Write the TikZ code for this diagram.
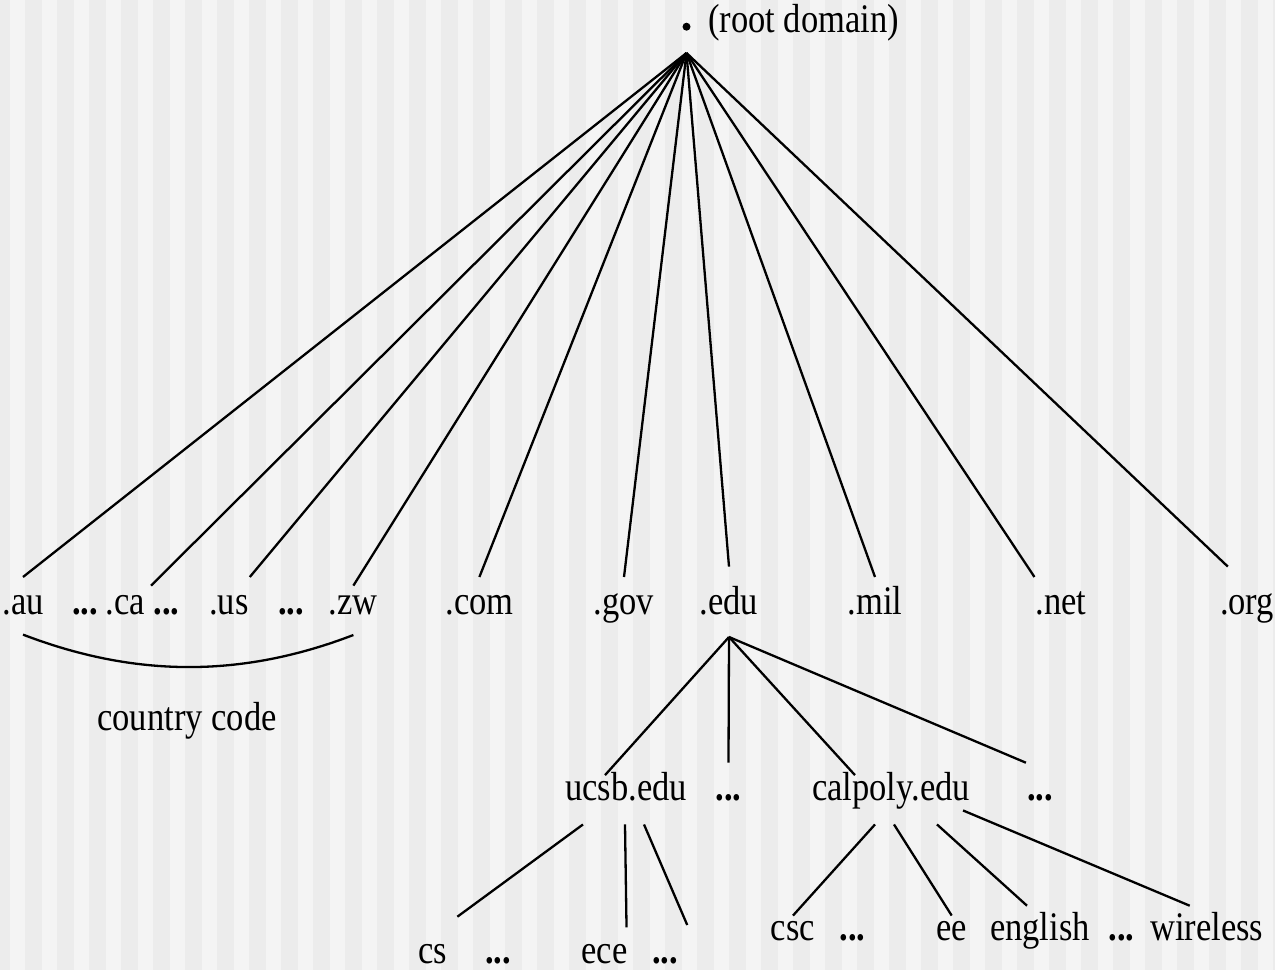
\documentclass[tikz,border=0pt]{standalone}
\usepackage{fontspec}
\setmainfont{Liberation Serif}[FakeStretch=0.85]
\definecolor{stripedark}{RGB}{236,236,236}
\definecolor{stripelight}{RGB}{244,244,244}
\newcommand{\lblsize}{\fontsize{40.6}{48}\selectfont}

\begin{document}
\begin{tikzpicture}[x=1pt,y=-1pt,line width=2.3pt,
  every node/.style={font=\lblsize,inner sep=0pt},
  tld/.style={anchor=base,text height=28.4pt,text depth=4pt,outer ysep=8.6pt},
  mid/.style={anchor=base,text height=24.4pt,text depth=22.6pt},
  leaf/.style={anchor=base,text height=23.3pt,text depth=4pt},
  more/.style={font=\lblsize\bfseries}]
  % striped background
  \useasboundingbox (0,0) rectangle (1275,970);
  \fill[stripelight] (0,0) rectangle (1275,970);
  \foreach \k in {-1,...,39}
    \fill[stripedark] ({25+32*\k},0) rectangle ({42+32*\k},970);

  \node[circle,fill,minimum size=8pt,outer sep=22.3pt] (dot) at (686.5,26.7) {};
  \node[anchor=base west] (root) at (707,32) {(root domain)};

  % top level domains
  \node[tld] (au) at (23,614) {.au};
  \node[anchor=base,more] (ccmore1) at (85,614) {...};
  \node[tld,outer ysep=0pt,outer xsep=6pt] (ca) at (125.4,614) {.ca};
  \node[anchor=base,more] (ccmore2) at (166.5,614) {...};
  \node[tld] (us) at (229,614) {.us};
  \node[anchor=base,more] (ccmore3) at (291,614) {...};
  \node[tld,outer ysep=0pt] (zw) at (353.4,614) {.zw};
  \node[tld] (com) at (479.4,614) {.com};
  \node[tld] (gov) at (624,614) {.gov};
  \node[tld,outer ysep=19pt] (edu) at (729,614) {.edu};
  \node[tld] (mil) at (875,614) {.mil};
  \node[tld] (net) at (1061,614) {.net};
  \node[tld,outer ysep=19pt] (org) at (1247,614) {.org};

  \foreach \t in {au.north,ca.north east,us.north east,zw.north,com.north,
                  gov.north,edu.north,mil.north,net.north west}
    \draw (dot.south) -- (\t);
  \draw (dot.south) -- ([xshift=9pt]org.north west);

  \draw ([yshift=-8pt]au.south) .. controls +(112,43) and +(-112,43) .. ([yshift=-17pt]zw.south);
  \node[anchor=base] (cc) at (187,730.7) {country code};

  % second level under .edu
  \node[mid] (ucsb) at (626,800.7) {ucsb.edu};
  \node[mid,more,outer ysep=13.6pt] (edumore1) at (728.5,800.7) {...};
  \node[mid] (calpoly) at (891,800.7) {calpoly.edu};
  \node[mid,more,outer ysep=13.6pt] (edumore2) at (1040,800.7) {...};

  \draw (edu.south) -- ([xshift=-21pt]ucsb.north);
  \draw (edu.south) -- (edumore1.north);
  \draw (edu.south) -- ([xshift=-36pt]calpoly.north);
  \draw (edu.south) -- (edumore2.north west);

  % departments
  \node[leaf,outer xsep=10pt,outer ysep=23.3pt] (cs) at (433,963.3) {cs};
  \node[leaf,more] (ucsbmore1) at (498,963.3) {...};
  \node[leaf,outer ysep=12.7pt] (ece) at (604.4,963.3) {ece};
  \node[leaf,more,outer xsep=9pt,outer ysep=15pt] (ucsbmore2) at (665.3,963.3) {...};

  \node[leaf] (csc) at (793,940) {csc};
  \node[leaf,more] (polymore1) at (852.5,940) {...};
  \node[leaf] (ee) at (951.7,940) {ee};
  \node[leaf,outer ysep=11pt] (english) at (1040,940) {english};
  \node[leaf,more] (polymore2) at (1121.5,940) {...};
  \node[leaf,outer ysep=11pt] (wireless) at (1206.7,940) {wireless};

  \draw ([xshift=-43pt]ucsb.south) -- (cs.north east);
  \draw ([xshift=-1pt]ucsb.south) -- ([xshift=-2pt]ece.north east);
  \draw ([xshift=18pt]ucsb.south) -- (ucsbmore2.north east);
  \draw ([xshift=-16pt]calpoly.south) -- (csc.north);
  \draw ([xshift=3pt]calpoly.south) -- (ee.north);
  \draw ([xshift=46pt]calpoly.south) -- ([xshift=-13pt]english.north);
  \draw ([xshift=-8pt,yshift=14pt]calpoly.south east) -- ([xshift=-17pt]wireless.north);
\end{tikzpicture}
\end{document}
